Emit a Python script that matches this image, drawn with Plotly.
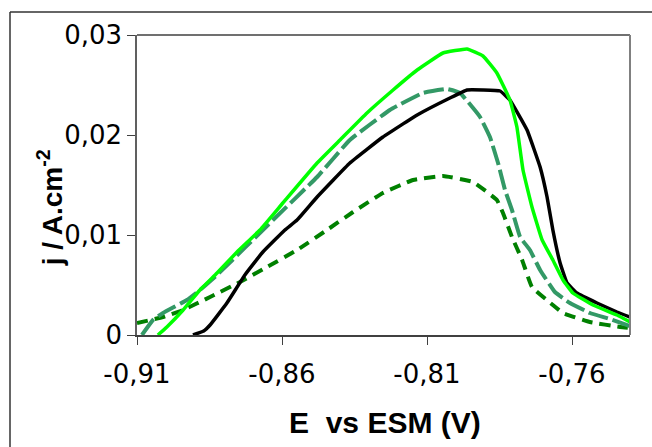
import plotly.graph_objects as go

# ---- data ----
black_x = [-0.8907, -0.8870, -0.8848, -0.8790, -0.8728, -0.8666, -0.8590, -0.8548, -0.8479, -0.8366, -0.8252,
           -0.8134, -0.8021, -0.7962, -0.7907, -0.7848, -0.7814, -0.7755, -0.7710, -0.7686, -0.7666,
           -0.7641, -0.7617, -0.7583, -0.7514, -0.7445, -0.7400]
black_y = [0.0000, 0.0004, 0.0010, 0.0032, 0.0060, 0.0083, 0.0105, 0.0115, 0.0138, 0.0172, 0.0198,
           0.0220, 0.0237, 0.0245, 0.0245, 0.0244, 0.0235, 0.0205, 0.0168, 0.0138, 0.0105,
           0.0072, 0.0052, 0.0042, 0.0032, 0.0023, 0.0018]

lime_x = [-0.9028, -0.8997, -0.8941, -0.8883, -0.8824, -0.8755, -0.8676, -0.8597, -0.8479, -0.8400,
          -0.8307, -0.8217, -0.8134, -0.8045, -0.7962, -0.7907, -0.7859, -0.7814, -0.7790, -0.7769,
          -0.7738, -0.7703, -0.7666, -0.7631, -0.7597, -0.7528, -0.7445, -0.7400]
lime_y = [0.0000, 0.0008, 0.0025, 0.0045, 0.0062, 0.0083, 0.0105, 0.0132, 0.0172, 0.0195,
          0.0222, 0.0245, 0.0265, 0.0282, 0.0286, 0.0279, 0.0262, 0.0235, 0.0208, 0.0165,
          0.0128, 0.0095, 0.0075, 0.0055, 0.0042, 0.0030, 0.0020, 0.0013]

teal_x = [-0.9083, -0.9045, -0.9010, -0.8928, -0.8883, -0.8824, -0.8631, -0.8479, -0.8366, -0.8228,
          -0.8114, -0.8031, -0.7986, -0.7917, -0.7883, -0.7855, -0.7831, -0.7807, -0.7779, -0.7745,
          -0.7710, -0.7659, -0.7607, -0.7538, -0.7469, -0.7400]
teal_y = [0.0000, 0.0015, 0.0022, 0.0035, 0.0045, 0.0060, 0.0115, 0.0158, 0.0195, 0.0225,
          0.0242, 0.0246, 0.0242, 0.0218, 0.0198, 0.0172, 0.0145, 0.0125, 0.0098, 0.0085,
          0.0065, 0.0043, 0.0032, 0.0022, 0.0016, 0.0009]

dark_x = [-0.9100, -0.9010, -0.8941, -0.8848, -0.8745, -0.8652, -0.8548, -0.8445, -0.8355, -0.8252,
          -0.8148, -0.8045, -0.7941, -0.7859, -0.7838, -0.7807, -0.7772, -0.7738, -0.7666, -0.7631,
          -0.7538, -0.7434, -0.7400]
dark_y = [0.0012, 0.0018, 0.0025, 0.0038, 0.0053, 0.0068, 0.0085, 0.0105, 0.0123, 0.0142,
          0.0155, 0.0159, 0.0153, 0.0135, 0.0122, 0.0098, 0.0075, 0.0048, 0.0030, 0.0022,
          0.0013, 0.0008, 0.0007]

x_ticks = [-0.91, -0.86, -0.81, -0.76]
x_labels = ["-0,91", "-0,86", "-0,81", "-0,76"]
y_ticks = [0, 0.01, 0.02, 0.03]
y_labels = ["0", "0,01", "0,02", "0,03"]

fig = go.Figure()
fig.add_trace(go.Scatter(x=dark_x, y=dark_y, mode="lines",
                         line=dict(color="#008000", width=4, dash="11px,7px",
                                   shape="spline", smoothing=0.3)))
fig.add_trace(go.Scatter(x=teal_x, y=teal_y, mode="lines",
                         line=dict(color="#339966", width=4, dash="20px,5px",
                                   shape="spline", smoothing=0.3)))
fig.add_trace(go.Scatter(x=black_x, y=black_y, mode="lines",
                         line=dict(color="#000000", width=3.5,
                                   shape="spline", smoothing=0.3)))
fig.add_trace(go.Scatter(x=lime_x, y=lime_y, mode="lines",
                         line=dict(color="#00FF00", width=3.5,
                                   shape="spline", smoothing=0.3)))

tickfont = dict(family="DejaVu Sans", size=26, color="#000000")

fig.update_layout(
    width=652, height=447, autosize=False,
    margin=dict(l=137, r=22, t=35, b=112, pad=0),
    paper_bgcolor="white", plot_bgcolor="white",
    showlegend=False,
    xaxis=dict(range=[-0.91, -0.74], tickvals=x_ticks, ticktext=x_labels,
               ticks="outside", ticklen=8, tickwidth=1, tickcolor="#404040",
               showline=True, linecolor="#404040", linewidth=1.5,
               showgrid=False, zeroline=False, tickfont=tickfont,
               ticklabelstandoff=7),
    yaxis=dict(range=[0, 0.03], tickvals=y_ticks, ticktext=y_labels,
               ticks="outside", ticklen=8, tickwidth=1, tickcolor="#404040",
               showline=True, linecolor="#606060", linewidth=1.5,
               showgrid=False, zeroline=False, tickfont=tickfont),
    shapes=[
        # plot-area top and right border
        dict(type="line", xref="paper", yref="paper", x0=0, x1=1, y0=1, y1=1,
             line=dict(color="#404040", width=1.5)),
        dict(type="line", xref="paper", yref="paper", x0=1, x1=1, y0=0, y1=1,
             line=dict(color="#808080", width=2)),
        # outer chart frame
        dict(type="line", xref="paper", yref="paper", x0=-0.2576, x1=-0.2576, y0=-0.6, y1=1.0767,
             line=dict(color="#333333", width=1.5)),
        dict(type="line", xref="paper", yref="paper", x0=-0.2576, x1=1.1, y0=1.0767, y1=1.0767,
             line=dict(color="#333333", width=1.5)),
    ],
    annotations=[
        dict(text="E\u00a0 vs ESM (V)", xref="paper", yref="paper", x=0.503, y=-0.293,
             showarrow=False, xanchor="center", yanchor="middle",
             font=dict(family="Liberation Sans", size=30, color="#000000", weight="bold")),
        dict(text="j / A.cm<sup>-2</sup>", xref="paper", yref="paper", x=-0.176, y=0.423,
             showarrow=False, xanchor="center", yanchor="middle", textangle=-90,
             font=dict(family="Liberation Sans", size=28, color="#000000", weight="bold")),
    ],
)

fig.write_html("out.html")
